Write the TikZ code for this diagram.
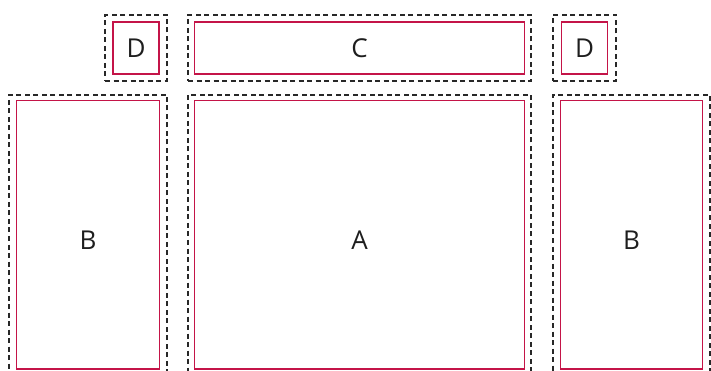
\documentclass[tikz,border=0pt]{standalone}
\usepackage{fontspec}
\setmainfont{Open Sans}
\usetikzlibrary{positioning}
\definecolor{framered}{RGB}{196,20,72}
\definecolor{guidegray}{RGB}{40,40,40}
\definecolor{labelblack}{RGB}{30,30,30}

\tikzset{
  zone/.style={draw=guidegray, line width=1.1pt, dash pattern=on 5pt off 3.5pt,
    outer sep=0pt, inner sep=0pt, text=labelblack, font=\fontsize{26}{31}\selectfont},
  panel/.style={draw=framered, line width=1.5pt, outer sep=0pt, inner sep=0pt},
}

\begin{document}
\begin{tikzpicture}
  \useasboundingbox (0,0) rectangle (711pt,-371pt);
  % Zone tratteggiate
  \node [zone, minimum width=158pt, minimum height=291pt, anchor=north west] (zB1) at (9pt,-95pt) {B};
  \node [zone, minimum width=343pt, minimum height=291pt, right=21pt of zB1] (zA) {A};
  \node [zone, minimum width=157pt, minimum height=291pt, right=22pt of zA] (zB2) {B};
  \node [zone, minimum width=62pt, minimum height=66pt, above left=14pt and 0pt of zB1.north east] (zD1) {D};
  \node [zone, minimum width=343pt, minimum height=66pt, above=14pt of zA] (zC) {C};
  \node [zone, minimum width=63pt, minimum height=66pt, above right=14pt and 0pt of zB2.north west] (zD2) {D};

  % Pannelli interni
  \node [panel, minimum width=143pt, minimum height=268.5pt, below=5.5pt of zB1.north] (pB1) {};
  \node [panel, minimum width=330pt, minimum height=268.5pt, below=5.5pt of zA.north] (pA) {};
  \node [panel, minimum width=142pt, minimum height=268.5pt, below=5.5pt of zB2.north] (pB2) {};
  \node [panel, minimum width=46pt, minimum height=52pt] (pD1) at (zD1) {};
  \node [panel, minimum width=330pt, minimum height=52pt] (pC) at (zC) {};
  \node [panel, minimum width=46pt, minimum height=52pt] (pD2) at (zD2) {};
\end{tikzpicture}
\end{document}
